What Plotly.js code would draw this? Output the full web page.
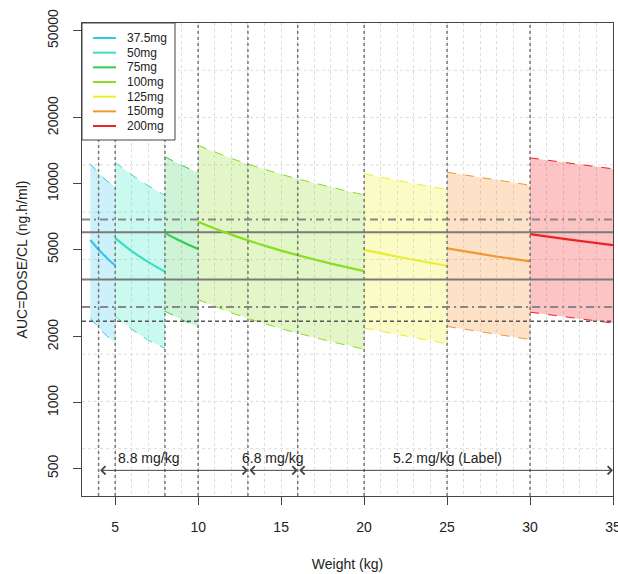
<!DOCTYPE html>
<html>
<head>
<meta charset="utf-8">
<script src="https://cdn.plot.ly/plotly-3.0.1.min.js"></script>
<style>html,body{margin:0;padding:0;background:#fff;}</style>
</head>
<body>
<div id="chart" style="width:618px;height:574px;"></div>
<script>
// ---- data ----
const doses = ['37.5mg', '50mg', '75mg', '100mg', '125mg', '150mg', '200mg'];
const weights = [
  [3.5, 4, 4.5, 5],
  [5, 6, 7, 8],
  [8, 9, 10],
  [10, 11, 12, 13, 14, 15, 16, 17, 18, 19, 20],
  [20, 22.5, 25],
  [25, 27.5, 30],
  [30, 32.5, 35]
];
const medianAUC = [
  [5530, 5000, 4575, 4228],
  [5640, 4917, 4380, 3963],
  [5944, 5442, 5028],
  [6705, 6242, 5848, 5507, 5209, 4946, 4713, 4503, 4314, 4143, 3986],
  [4983, 4562, 4215],
  [5058, 4709, 4411],
  [5881, 5540, 5240]
];
const upperAUC = [
  [12330, 11150, 10300, 9600],
  [12500, 10965, 9767, 8837],
  [13255, 12136, 11212],
  [14952, 13920, 13041, 12281, 11616, 11030, 10510, 10042, 9620, 9239, 8889],
  [11100, 10170, 9400],
  [11280, 10500, 9840],
  [13115, 12354, 11685]
];
const lowerAUC = [
  [2434, 2200, 2013, 1880],
  [2480, 2163, 1927, 1770],
  [2615, 2394, 2212],
  [2950, 2746, 2573, 2423, 2292, 2176, 2074, 1981, 1898, 1823, 1754],
  [2190, 2010, 1855],
  [2226, 2072, 1941],
  [2588, 2438, 2306]
];
const lineColors = ['#33c6ee', '#3ddcc4', '#33cc55', '#8add22', '#eaee33', '#ee9933', '#ee2222'];
const fillColors = ['rgba(51,198,238,0.25)', 'rgba(61,235,196,0.28)', 'rgba(51,204,85,0.24)',
                    'rgba(138,221,34,0.25)', 'rgba(240,240,51,0.28)', 'rgba(250,160,70,0.30)', 'rgba(245,60,60,0.30)'];

// reference lines (AUC)
const refSolid = [6000, 3650];
const refDashDot = [6850, 2730];
const refDashed = [2350];
const xSpan = [3, 35];

// weight boundaries (dotted verticals)
const boundaries = [4, 5, 8, 10, 13, 16, 20, 25, 30];

// dosing bands (mg/kg)
const bandLabels = ['8.8 mg/kg', '6.8 mg/kg', '5.2 mg/kg (Label)'];
const bandStart = [4, 13, 16];
const bandEnd = [13, 16, 35];
const bandLabelX = [7, 14.5, 25];
const arrowAUC = 490;
const labelAUC = 560;

const yTicks = [500, 1000, 2000, 5000, 10000, 20000, 50000];

// ---- build traces ----
const traces = [];
for (let i = 0; i < doses.length; i++) {
  traces.push({
    x: weights[i], y: upperAUC[i], mode: 'lines', type: 'scatter',
    line: {color: lineColors[i], width: 1, dash: 'dash'}, opacity: 0.75,
    showlegend: false, hoverinfo: 'skip'
  });
  traces.push({
    x: weights[i], y: lowerAUC[i], mode: 'lines', type: 'scatter',
    fill: 'tonexty', fillcolor: fillColors[i],
    line: {color: lineColors[i], width: 1, dash: 'dash'},
    showlegend: false, hoverinfo: 'skip'
  });
}
refSolid.forEach(v => traces.push({x: xSpan, y: [v, v], mode: 'lines', type: 'scatter',
  line: {color: '#7a7a7a', width: 2}, showlegend: false, hoverinfo: 'skip'}));
refDashDot.forEach(v => traces.push({x: xSpan, y: [v, v], mode: 'lines', type: 'scatter',
  line: {color: '#888888', width: 2, dash: '8px,4px,2px,4px'}, showlegend: false, hoverinfo: 'skip'}));
refDashed.forEach(v => traces.push({x: xSpan, y: [v, v], mode: 'lines', type: 'scatter',
  line: {color: '#555555', width: 1.5, dash: '4px,3px'}, showlegend: false, hoverinfo: 'skip'}));
for (let i = 0; i < doses.length; i++) {
  traces.push({
    x: weights[i], y: medianAUC[i], mode: 'lines', type: 'scatter', name: doses[i],
    line: {color: lineColors[i], width: 2.2, shape: 'spline'}, hoverinfo: 'skip', showlegend: false
  });
}

// ---- shapes ----
const shapes = [];
for (let k = 1; k <= 9; k++) {
  shapes.push({type: 'line', xref: 'paper', yref: 'paper', x0: 0, x1: 1, y0: k / 10, y1: k / 10,
    line: {color: '#dcdcdc', width: 1, dash: 'dot'}, layer: 'below'});
}
boundaries.forEach(b => shapes.push({type: 'line', xref: 'x', yref: 'paper', x0: b, x1: b, y0: 0, y1: 1,
  line: {color: '#777777', width: 1.5, dash: 'dot'}, layer: 'above'}));

// ---- custom legend box (paper coordinates of plot area) ----
const font = {family: 'Liberation Sans, Arial, sans-serif', size: 14, color: '#222'};
const annotations = [];
const plotW = 531, plotH = 473;
const lgX = px => px / plotW;          // px from left edge of plot
const lgY = py => 1 - py / plotH;      // px from top edge of plot
shapes.push({type: 'rect', xref: 'paper', yref: 'paper', x0: 0, x1: lgX(93), y0: lgY(117), y1: 1,
  fillcolor: '#fff', line: {color: '#444', width: 1}, layer: 'above'});
doses.forEach((d, i) => {
  const yy = lgY(15 + i * 14.67);
  shapes.push({type: 'line', xref: 'paper', yref: 'paper', x0: lgX(11), x1: lgX(34), y0: yy, y1: yy,
    line: {color: lineColors[i], width: 2}, layer: 'above'});
  annotations.push({xref: 'paper', yref: 'paper', x: lgX(43), y: yy, xanchor: 'left', yanchor: 'middle',
    text: d, showarrow: false, font: {family: font.family, size: 12, color: '#222'}});
});

// ---- dosing-band arrows and labels ----
for (let i = 0; i < bandLabels.length; i++) {
  annotations.push({
    x: bandEnd[i], y: Math.log10(arrowAUC), ax: bandStart[i], ay: Math.log10(arrowAUC),
    xref: 'x', yref: 'y', axref: 'x', ayref: 'y', text: '', showarrow: true,
    arrowside: 'end+start', arrowhead: 4, startarrowhead: 4, arrowsize: 1.6, startarrowsize: 1.6,
    arrowwidth: 1, arrowcolor: '#444'
  });
  annotations.push({
    x: bandLabelX[i], y: Math.log10(labelAUC), xref: 'x', yref: 'y', text: bandLabels[i],
    showarrow: false, font: font
  });
}

const layout = {
  width: 618, height: 574,
  margin: {l: 82, r: 5, t: 23, b: 78},
  paper_bgcolor: '#fff', plot_bgcolor: '#fff',
  font: font,
  showlegend: false,
  xaxis: {
    range: [3, 35], tickmode: 'array', tickvals: [5, 10, 15, 20, 25, 30, 35],
    ticks: 'outside', ticklen: 8, tickwidth: 1, tickcolor: '#444',
    showline: true, mirror: true, linecolor: '#444', linewidth: 1,
    showgrid: true, gridcolor: '#dcdcdc', griddash: 'dot', gridwidth: 1,
    minor: {tickmode: 'linear', tick0: 0, dtick: 1, showgrid: true, gridcolor: '#dcdcdc', griddash: 'dot', gridwidth: 1, ticks: ''},
    zeroline: false, ticklabelstandoff: 10, ticklabeloverflow: 'allow',
    tickfont: font,
    title: {text: 'Weight (kg)', font: font, standoff: 25}
  },
  yaxis: {
    type: 'log', range: [2.573, 4.734],
    tickmode: 'array', tickvals: yTicks, ticktext: yTicks.map(String), tickangle: -90,
    ticks: 'outside', ticklen: 8, tickwidth: 1, tickcolor: '#444',
    showline: true, mirror: true, linecolor: '#444', linewidth: 1,
    showgrid: false, zeroline: false, ticklabelstandoff: 9,
    tickfont: font,
    title: {text: 'AUC=DOSE/CL (ng.h/ml)', font: font, standoff: 14}
  },
  shapes: shapes,
  annotations: annotations
};

Plotly.newPlot('chart', traces, layout, {displayModeBar: false, staticPlot: true});
</script>
</body>
</html>
